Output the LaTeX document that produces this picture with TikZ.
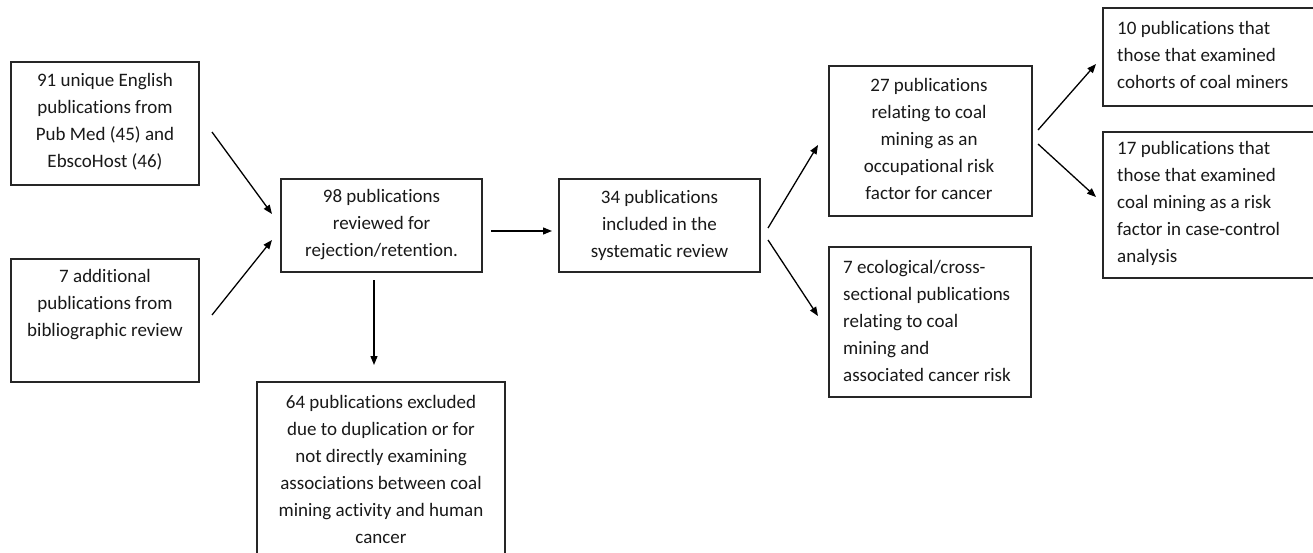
\documentclass[tikz,border=0pt]{standalone}
\usepackage{fontspec}
\setmainfont{Carlito}[Ligatures=NoCommon]
\usetikzlibrary{arrows.meta}
\begin{document}
\begin{tikzpicture}[x=1pt,y=-1pt,
  box/.style={draw=black!85, line width=1.3pt, rectangle, inner sep=0pt, fill=white},
  txt/.style={inner sep=0pt, font=\fontsize{19}{27}\selectfont, text=black!90},
  ctxt/.style={txt, align=center},
  ltxt/.style={txt, align=left, anchor=west},
  arr/.style={line width=1.3pt, -{Triangle[length=9pt,width=7pt]}}]
\clip (0,0) rectangle (1313,553);
\fill[white] (0,0) rectangle (1313,553);
% boxes
\node[box, minimum width=188pt, minimum height=123pt] (A) at (105,123.5) {};
\node[box, minimum width=188pt, minimum height=123pt] (B) at (105,320.5) {};
\node[box, minimum width=201pt, minimum height=93pt] (C) at (381.5,225.5) {};
\node[box, minimum width=248pt, minimum height=218pt] (D) at (381,491) {};
\node[box, minimum width=201pt, minimum height=93pt] (E) at (659.5,225.5) {};
\node[box, minimum width=203pt, minimum height=150pt] (F) at (930.5,141) {};
\node[box, minimum width=202pt, minimum height=150pt] (G) at (930,322) {};
\node[box, minimum width=227pt, minimum height=98pt] (H) at (1216.5,57) {};
\node[box, minimum width=227pt, minimum height=146pt] (I) at (1216.5,205) {};
% texts
\node[ctxt] (tA) at (105,122) {91 unique English\\publications from\\Pub Med (45) and\\EbscoHost (46)};
\node[ctxt] (tB) at (105,304.5) {7 additional\\publications from\\bibliographic review};
\node[ctxt] (tC) at (381.5,225) {98 publications\\reviewed for\\rejection/retention.};
\node[ctxt] (tD) at (381,469.5) {64 publications excluded\\due to duplication or for\\not directly examining\\associations between coal\\mining activity and human\\cancer};
\node[ctxt] (tE) at (659.5,225) {34 publications\\included in the\\systematic review};
\node[ctxt] (tF) at (929,139) {27 publications\\relating to coal\\mining as an\\occupational risk\\factor for cancer};
\node[ltxt] (tG) at (843,321) {7 ecological/cross-\\sectional publications\\relating to coal\\mining and\\associated cancer risk};
\node[ltxt] (tH) at (1117,54.5) {10 publications that\\those that examined\\cohorts of coal miners};
\node[ltxt] (tI) at (1117,203.5) {17 publications that\\those that examined\\coal mining as a risk\\factor in case-control\\analysis};
% connector ends
\coordinate (a1) at (212,132); \coordinate (c1) at (272,214);
\coordinate (b1) at (212,315); \coordinate (c2) at (272,240);
\coordinate (c3) at (491,231); \coordinate (e1) at (552,231);
\coordinate (c4) at (374,280); \coordinate (d1) at (374,365);
\coordinate (e2) at (768,228); \coordinate (f1) at (818,145);
\coordinate (e3) at (768,240); \coordinate (g1) at (818,316);
\coordinate (f2) at (1038,130); \coordinate (h1) at (1096,64);
\coordinate (f3) at (1038,144); \coordinate (i1) at (1096,197);
% connectors
\draw[arr] (a1) -- (c1);
\draw[arr] (b1) -- (c2);
\draw[arr] (c3) -- (e1);
\draw[arr] (c4) -- (d1);
\draw[arr] (e2) -- (f1);
\draw[arr] (e3) -- (g1);
\draw[arr] (f2) -- (h1);
\draw[arr] (f3) -- (i1);
\end{tikzpicture}
\end{document}
